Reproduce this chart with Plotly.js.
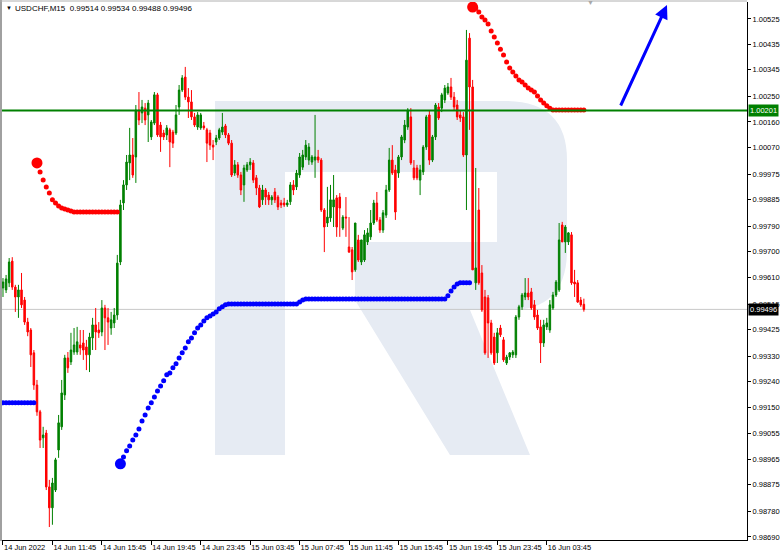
<!DOCTYPE html>
<html>
<head>
<meta charset="utf-8">
<script src="https://cdn.plot.ly/plotly-3.0.1.min.js"></script>
<style>
  html, body { margin: 0; padding: 0; background: #ffffff; }
  #chart { width: 782px; height: 555px; }
</style>
</head>
<body>
<div id="chart"></div>
<script>
// USDCHF M15 candles, 14 Jun 2022 07:45 onward
const symbol = 'USDCHF,M15';

const timeLabels = ['14 Jun 2022', '14 Jun 11:45', '14 Jun 15:45', '14 Jun 19:45', '14 Jun 23:45',
  '15 Jun 03:45', '15 Jun 07:45', '15 Jun 11:45', '15 Jun 15:45', '15 Jun 19:45',
  '15 Jun 23:45', '16 Jun 03:45'];
const barsPerLabel = 16;

const priceTicks = [1.00525, 1.00435, 1.00345, 1.00250, 1.00160, 1.00070, 0.99975, 0.99885,
  0.99790, 0.99700, 0.99610, 0.99515, 0.99425, 0.99330, 0.99240, 0.99150, 0.99055, 0.98965,
  0.98875, 0.98780, 0.98690];

const openP = [
  0.99572, 0.99565, 0.99590, 0.99667, 0.99575, 0.99540, 0.99565, 0.99529, 0.99451, 0.99423,
  0.99342, 0.99228, 0.99133, 0.99041, 0.99058, 0.98867, 0.98793, 0.98856, 0.98998, 0.99080,
  0.99193, 0.99324, 0.99310, 0.99345, 0.99345, 0.99370, 0.99377, 0.99363, 0.99335, 0.99395,
  0.99441, 0.99423, 0.99416, 0.99501, 0.99466, 0.99430, 0.99448, 0.99476, 0.99664, 0.99873,
  0.99937, 1.00015, 1.00043, 1.00036, 1.00202, 1.00192, 1.00209, 1.00185, 1.00107, 1.00156,
  1.00256, 1.00149, 1.00121, 1.00114, 1.00132, 1.00124, 1.00121, 1.00213, 1.00273, 1.00319,
  1.00248, 1.00231, 1.00178, 1.00142, 1.00139, 1.00146, 1.00132, 1.00121, 1.00078, 1.00089,
  1.00103, 1.00124, 1.00146, 1.00114, 1.00085, 0.99979, 1.00008, 0.99972, 0.99937, 0.99990,
  1.00008, 1.00015, 0.99962, 0.99926, 0.99884, 0.99919, 0.99901, 0.99884, 0.99912, 0.99894,
  0.99873, 0.99873, 0.99866, 0.99877, 0.99937, 0.99930, 0.99972, 1.00000, 1.00036, 1.00025,
  1.00018, 1.00025, 1.00036, 1.00025, 0.99848, 0.99802, 0.99820, 0.99859, 0.99891, 0.99894,
  0.99784, 0.99823, 0.99717, 0.99707, 0.99636, 0.99742, 0.99664, 0.99671, 0.99735, 0.99753,
  0.99802, 0.99873, 0.99813, 0.99777, 0.99830, 0.99919, 1.00025, 0.99990, 0.99979, 1.00036,
  1.00096, 1.00142, 1.00178, 0.99997, 0.99997, 0.99954, 0.99983, 1.00071, 1.00185, 1.00025,
  1.00107, 1.00213, 1.00209, 1.00238, 1.00263, 1.00284, 1.00248, 1.00220, 1.00185, 1.00178,
  1.00043, 1.00457, 1.00284, 0.99590, 0.99848, 0.99625, 0.99540, 0.99537, 0.99448, 0.99398,
  0.99342, 0.99430, 0.99388, 0.99306, 0.99327, 0.99335, 0.99335, 0.99469, 0.99505, 0.99540,
  0.99554, 0.99558, 0.99512, 0.99476, 0.99434, 0.99377, 0.99434, 0.99423, 0.99501, 0.99547,
  0.99565, 0.99795, 0.99735, 0.99735, 0.99760, 0.99593, 0.99590, 0.99529, 0.99514];

const highP = [
  0.99607, 0.99618, 0.99678, 0.99681, 0.99583, 0.99583, 0.99625, 0.99540, 0.99466, 0.99430,
  0.99352, 0.99246, 0.99140, 0.99080, 0.99069, 0.98892, 0.98899, 0.98970, 0.99122, 0.99246,
  0.99335, 0.99345, 0.99413, 0.99430, 0.99434, 0.99423, 0.99423, 0.99388, 0.99413, 0.99466,
  0.99501, 0.99451, 0.99529, 0.99512, 0.99501, 0.99487, 0.99501, 0.99689, 0.99884, 0.99954,
  1.00043, 1.00139, 1.00103, 1.00220, 1.00266, 1.00238, 1.00227, 1.00238, 1.00167, 1.00266,
  1.00263, 1.00160, 1.00132, 1.00149, 1.00139, 1.00132, 1.00220, 1.00291, 1.00326, 1.00355,
  1.00280, 1.00273, 1.00192, 1.00195, 1.00192, 1.00160, 1.00139, 1.00132, 1.00096, 1.00114,
  1.00139, 1.00192, 1.00153, 1.00121, 1.00096, 1.00025, 1.00018, 0.99983, 1.00008, 1.00018,
  1.00032, 1.00025, 0.99972, 0.99937, 0.99937, 0.99926, 0.99912, 0.99901, 0.99926, 0.99901,
  0.99884, 0.99891, 0.99884, 0.99947, 0.99954, 0.99990, 1.00050, 1.00061, 1.00096, 1.00085,
  1.00043, 1.00185, 1.00061, 1.00032, 0.99855, 0.99930, 0.99937, 0.99972, 0.99901, 0.99908,
  0.99830, 0.99894, 0.99823, 0.99717, 0.99802, 0.99760, 0.99742, 0.99777, 0.99784, 0.99848,
  0.99884, 0.99912, 0.99823, 0.99848, 0.99937, 1.00068, 1.00078, 1.00008, 1.00043, 1.00114,
  1.00167, 1.00209, 1.00209, 1.00025, 1.00008, 1.00008, 1.00078, 1.00185, 1.00202, 1.00114,
  1.00227, 1.00227, 1.00263, 1.00291, 1.00298, 1.00316, 1.00266, 1.00238, 1.00202, 1.00195,
  1.00486, 1.00475, 1.00309, 0.99997, 0.99926, 0.99653, 0.99565, 0.99547, 0.99459, 0.99413,
  0.99430, 0.99441, 0.99398, 0.99335, 0.99345, 0.99352, 0.99476, 0.99512, 0.99554, 0.99607,
  0.99607, 0.99572, 0.99529, 0.99494, 0.99459, 0.99459, 0.99466, 0.99529, 0.99558, 0.99600,
  0.99802, 0.99806, 0.99795, 0.99770, 0.99770, 0.99636, 0.99600, 0.99540, 0.99534];

const lowP = [
  0.99540, 0.99554, 0.99575, 0.99565, 0.99487, 0.99466, 0.99501, 0.99441, 0.99401, 0.99292,
  0.99211, 0.99119, 0.99005, 0.99005, 0.98856, 0.98725, 0.98733, 0.98849, 0.98970, 0.99069,
  0.99175, 0.99271, 0.99299, 0.99335, 0.99335, 0.99335, 0.99317, 0.99281, 0.99274, 0.99352,
  0.99352, 0.99395, 0.99401, 0.99352, 0.99370, 0.99406, 0.99430, 0.99459, 0.99653, 0.99848,
  0.99919, 0.99954, 0.99962, 0.99944, 1.00149, 1.00156, 1.00149, 1.00089, 1.00096, 1.00149,
  1.00107, 1.00054, 1.00096, 1.00096, 1.00000, 1.00068, 1.00114, 1.00185, 1.00266, 1.00238,
  1.00174, 1.00167, 1.00142, 1.00132, 1.00132, 1.00132, 1.00018, 1.00061, 1.00025, 1.00078,
  1.00096, 1.00114, 1.00103, 1.00078, 0.99965, 0.99969, 0.99962, 0.99901, 0.99877, 0.99983,
  0.99990, 0.99944, 0.99901, 0.99855, 0.99866, 0.99866, 0.99866, 0.99866, 0.99873, 0.99848,
  0.99855, 0.99859, 0.99859, 0.99866, 0.99901, 0.99919, 0.99962, 0.99990, 1.00025, 1.00008,
  1.00008, 0.99962, 1.00015, 0.99841, 0.99699, 0.99788, 0.99806, 0.99788, 0.99753, 0.99753,
  0.99777, 0.99753, 0.99696, 0.99600, 0.99629, 0.99664, 0.99653, 0.99664, 0.99724, 0.99742,
  0.99795, 0.99806, 0.99767, 0.99767, 0.99820, 0.99912, 0.99972, 0.99813, 0.99962, 1.00025,
  1.00085, 1.00132, 1.00008, 0.99954, 0.99954, 0.99901, 0.99972, 1.00061, 1.00008, 1.00018,
  1.00096, 1.00167, 1.00195, 1.00227, 1.00256, 1.00238, 1.00202, 1.00167, 1.00160, 1.00036,
  0.99848, 1.00132, 0.99636, 0.99565, 0.99583, 0.99487, 0.99335, 0.99324, 0.99335, 0.99299,
  0.99306, 0.99398, 0.99310, 0.99299, 0.99317, 0.99324, 0.99324, 0.99459, 0.99494, 0.99529,
  0.99529, 0.99494, 0.99459, 0.99423, 0.99306, 0.99363, 0.99423, 0.99413, 0.99494, 0.99540,
  0.99558, 0.99735, 0.99696, 0.99724, 0.99583, 0.99540, 0.99519, 0.99505, 0.99488];

const closeP = [
  0.99593, 0.99604, 0.99664, 0.99575, 0.99540, 0.99565, 0.99512, 0.99451, 0.99416, 0.99335,
  0.99228, 0.99133, 0.99033, 0.99051, 0.98867, 0.98793, 0.98881, 0.98963, 0.99094, 0.99200,
  0.99324, 0.99289, 0.99352, 0.99370, 0.99381, 0.99359, 0.99352, 0.99335, 0.99398, 0.99441,
  0.99416, 0.99413, 0.99501, 0.99466, 0.99451, 0.99459, 0.99476, 0.99660, 0.99866, 0.99937,
  1.00018, 1.00043, 0.99972, 1.00202, 1.00167, 1.00213, 1.00167, 1.00227, 1.00160, 1.00256,
  1.00114, 1.00107, 1.00107, 1.00139, 1.00089, 1.00085, 1.00185, 1.00273, 1.00316, 1.00248,
  1.00231, 1.00178, 1.00149, 1.00185, 1.00185, 1.00139, 1.00085, 1.00078, 1.00071, 1.00103,
  1.00132, 1.00142, 1.00114, 1.00085, 0.99972, 1.00008, 0.99972, 0.99919, 0.99997, 1.00008,
  1.00018, 0.99954, 0.99926, 0.99859, 0.99919, 0.99894, 0.99884, 0.99894, 0.99884, 0.99859,
  0.99866, 0.99866, 0.99873, 0.99937, 0.99919, 0.99979, 1.00036, 1.00043, 1.00078, 1.00071,
  1.00036, 1.00036, 1.00025, 0.99848, 0.99788, 0.99823, 0.99884, 0.99884, 0.99788, 0.99855,
  0.99823, 0.99820, 0.99699, 0.99629, 0.99802, 0.99671, 0.99742, 0.99760, 0.99767, 0.99802,
  0.99873, 0.99813, 0.99777, 0.99838, 0.99919, 1.00025, 0.99979, 0.99841, 1.00036, 1.00107,
  1.00149, 1.00202, 1.00015, 0.99962, 0.99962, 0.99990, 1.00071, 1.00178, 1.00025, 1.00107,
  1.00220, 1.00174, 1.00256, 1.00280, 1.00284, 1.00248, 1.00213, 1.00178, 1.00174, 1.00043,
  1.00379, 1.00284, 0.99636, 0.99643, 0.99590, 0.99494, 0.99342, 0.99448, 0.99342, 0.99306,
  0.99413, 0.99406, 0.99317, 0.99327, 0.99342, 0.99345, 0.99469, 0.99505, 0.99547, 0.99554,
  0.99540, 0.99501, 0.99469, 0.99430, 0.99377, 0.99441, 0.99448, 0.99512, 0.99547, 0.99593,
  0.99742, 0.99735, 0.99788, 0.99767, 0.99590, 0.99586, 0.99522, 0.99512, 0.99496];

// Trailing stop dots: each run starts at the bar given and continues bar by bar
const sarBlueStartA = 0;
const sarBlueA = [0.99165, 0.99165, 0.99165, 0.99165, 0.99165, 0.99165, 0.99165, 0.99165,
  0.99165, 0.99165, 0.99165];

const sarRedStartA = 11;
const sarRedA = [1.00015, 0.99983, 0.99954, 0.99930, 0.99908, 0.99884, 0.99873, 0.99862,
  0.99855, 0.99852, 0.99848, 0.99845, 0.99841, 0.99841, 0.99841, 0.99841, 0.99841, 0.99841,
  0.99841, 0.99841, 0.99841, 0.99841, 0.99841, 0.99841, 0.99841, 0.99841, 0.99841];

const sarBlueStartB = 38;
const sarBlueB = [0.98949, 0.98973, 0.98995, 0.99012, 0.99033, 0.99051, 0.99072, 0.99101,
  0.99122, 0.99147, 0.99165, 0.99186, 0.99207, 0.99225, 0.99243, 0.99264, 0.99271, 0.99289,
  0.99303, 0.99324, 0.99342, 0.99359, 0.99381, 0.99395, 0.99413, 0.99430, 0.99441, 0.99455,
  0.99466, 0.99473, 0.99480, 0.99487, 0.99498, 0.99505, 0.99512,
  0.99515, 0.99515, 0.99515, 0.99515, 0.99515, 0.99515, 0.99515, 0.99515, 0.99515, 0.99515,
  0.99515, 0.99515, 0.99515, 0.99515, 0.99515, 0.99515, 0.99515, 0.99515, 0.99515, 0.99515,
  0.99515, 0.99515, 0.99515,
  0.99522, 0.99529,
  0.99533, 0.99533, 0.99533, 0.99533, 0.99533, 0.99533, 0.99533, 0.99533, 0.99533, 0.99533,
  0.99533, 0.99533, 0.99533, 0.99533, 0.99533, 0.99533, 0.99533, 0.99533, 0.99533, 0.99533,
  0.99533, 0.99533, 0.99533, 0.99533, 0.99533, 0.99533, 0.99533, 0.99533, 0.99533, 0.99533,
  0.99533, 0.99533, 0.99533, 0.99533, 0.99533, 0.99533, 0.99533, 0.99533, 0.99533, 0.99533,
  0.99533, 0.99533, 0.99533, 0.99533, 0.99533, 0.99533,
  0.99544, 0.99561, 0.99575, 0.99586, 0.99590, 0.99590, 0.99590, 0.99590];

const sarRedStartB = 152;
const sarRedB = [1.00567, 1.00564, 1.00550, 1.00532, 1.00521, 1.00507, 1.00482, 1.00461,
  1.00440, 1.00418, 1.00397, 1.00372, 1.00351, 1.00337, 1.00323, 1.00309, 1.00302, 1.00291,
  1.00280, 1.00273, 1.00266, 1.00252, 1.00238, 1.00227, 1.00217, 1.00209,
  1.00202, 1.00202, 1.00202, 1.00202, 1.00202, 1.00202, 1.00202, 1.00202, 1.00202, 1.00202,
  1.00202];

// Horizontal level, forecast arrow (bar offset / price)
const resistanceLevel = 1.00201;
const arrowFrom = [199.7, 1.00213];
const arrowTo = [214.9, 1.00574];

const n = closeP.length;
const bars = closeP.map((_, i) => i);
const lastClose = closeP[n - 1];

const GREEN = '#008000';
const RED = '#ff0000';
const BLUE = '#0000ff';

function sarTrace(start, values, color) {
  const xs = values.map((_, k) => start + k);
  return {
    type: 'scatter', mode: 'markers', x: xs, y: values,
    marker: { color: color, size: 5, line: { width: 0 } },
    hoverinfo: 'skip', showlegend: false
  };
}
function sarStart(start, values, color) {
  return {
    type: 'scatter', mode: 'markers', x: [start], y: [values[0]],
    marker: { color: color, size: 11, line: { width: 0 } },
    hoverinfo: 'skip', showlegend: false
  };
}

const traces = [
  {
    type: 'candlestick', x: bars, open: openP, high: highP, low: lowP, close: closeP,
    increasing: { line: { color: GREEN, width: 1 }, fillcolor: GREEN },
    decreasing: { line: { color: RED, width: 1 }, fillcolor: RED },
    whiskerwidth: 0, hoverinfo: 'skip', showlegend: false
  },
  sarTrace(sarBlueStartA, sarBlueA, BLUE),
  sarTrace(sarRedStartA, sarRedA, RED),
  sarStart(sarRedStartA, sarRedA, RED),
  sarTrace(sarBlueStartB, sarBlueB, BLUE),
  sarStart(sarBlueStartB, sarBlueB, BLUE),
  sarTrace(sarRedStartB, sarRedB, RED),
  sarStart(sarRedStartB, sarRedB, RED)
];

// plot box in page pixels: left 2, right 747, top 2, bottom 540
const boxL = 2, boxR = 747, boxT = 2, boxB = 540;
const fx = p => (p - boxL) / (boxR - boxL);
const fy = p => (boxB - p) / (boxB - boxT);
const pt = (x, y) => fx(x).toFixed(4) + ',' + fy(y).toFixed(4);

// faint "R" watermark
const logoPath = 'M' + pt(215, 455) + ' L' + pt(215, 101) + ' L' + pt(505, 101) +
  ' Q' + pt(567, 101) + ' ' + pt(567, 160) + ' L' + pt(567, 250) +
  ' Q' + pt(567, 310) + ' ' + pt(510, 310) + ' L' + pt(470, 310) +
  ' L' + pt(530, 455) + ' L' + pt(450, 455) + ' L' + pt(355, 300) +
  ' L' + pt(355, 242) + ' L' + pt(497, 242) + ' L' + pt(497, 172) +
  ' L' + pt(285, 172) + ' L' + pt(285, 455) + ' Z';

const xRange = [-0.32, 240.8];
const yRange = [0.98679, 1.00585];

const layout = {
  width: 782, height: 555,
  margin: { l: boxL, r: 782 - boxR, t: boxT, b: 555 - boxB, pad: 0 },
  paper_bgcolor: '#ffffff', plot_bgcolor: '#ffffff',
  font: { family: 'Liberation Sans, Arial, sans-serif', size: 7.5, color: '#000000' },
  showlegend: false,
  xaxis: {
    range: xRange, fixedrange: true, automargin: false,
    rangeslider: { visible: false },
    tickmode: 'array',
    tickvals: timeLabels.map((_, k) => k * barsPerLabel),
    ticktext: timeLabels,
    tickangle: 0,
    ticks: 'outside', ticklen: 4, tickwidth: 1, tickcolor: '#000000',
    ticklabelposition: 'outside right',
    showgrid: false, zeroline: false,
    showline: true, linecolor: '#000000', linewidth: 1,
    tickfont: { size: 7.5, color: '#000000' }
  },
  yaxis: {
    range: yRange, fixedrange: true, side: 'right', automargin: false,
    tickmode: 'array', tickvals: priceTicks,
    ticktext: priceTicks.map(v => v.toFixed(5)),
    ticks: 'outside', ticklen: 3, tickwidth: 1, tickcolor: '#000000',
    showgrid: false, zeroline: false,
    showline: true, linecolor: '#000000', linewidth: 1,
    tickfont: { size: 7.5, color: '#000000' }
  },
  shapes: [
    { type: 'path', xref: 'paper', yref: 'paper', path: logoPath,
      fillcolor: '#e6ebf3', line: { width: 0 }, layer: 'below' },
    { type: 'line', xref: 'paper', yref: 'y', x0: 0, x1: 1, y0: lastClose, y1: lastClose,
      line: { color: '#c8c8c8', width: 1 }, layer: 'below' },
    { type: 'line', xref: 'paper', yref: 'y', x0: 0, x1: 1, y0: resistanceLevel, y1: resistanceLevel,
      line: { color: GREEN, width: 2 }, layer: 'above' },
    { type: 'line', xref: 'paper', yref: 'paper', x0: fx(1), x1: fx(1), y0: fy(541), y1: fy(0),
      line: { color: '#a0a0a0', width: 2 } },
    { type: 'line', xref: 'paper', yref: 'paper', x0: fx(0), x1: 1, y0: fy(1), y1: fy(1),
      line: { color: '#b0b0b0', width: 1 } }
  ],
  annotations: [
    { xref: 'paper', yref: 'paper', x: fx(4), y: fy(8), xanchor: 'left', yanchor: 'middle',
      text: '▼', showarrow: false, font: { size: 6, color: '#000000' } },
    { xref: 'paper', yref: 'paper', x: fx(13), y: fy(8), xanchor: 'left', yanchor: 'middle',
      text: symbol + '  ' + [openP[n - 1], highP[n - 1], lowP[n - 1], closeP[n - 1]].map(v => v.toFixed(5)).join(' '),
      showarrow: false, font: { size: 8, color: '#000000' } },
    { xref: 'paper', yref: 'paper', x: fx(590), y: fy(3), xanchor: 'center', yanchor: 'middle',
      text: '▼', showarrow: false, font: { size: 7, color: '#a8a8a8' } },
    { xref: 'paper', yref: 'y', x: 1, y: resistanceLevel, xanchor: 'left', yanchor: 'middle',
      xshift: 1, text: resistanceLevel.toFixed(5), showarrow: false,
      bgcolor: GREEN, borderpad: 1, font: { size: 7.5, color: '#ffffff' } },
    { xref: 'paper', yref: 'y', x: 1, y: lastClose, xanchor: 'left', yanchor: 'middle',
      xshift: 1, text: lastClose.toFixed(5), showarrow: false,
      bgcolor: '#000000', borderpad: 1, font: { size: 7.5, color: '#ffffff' } },
    { xref: 'x', yref: 'y', axref: 'x', ayref: 'y',
      x: arrowTo[0], y: arrowTo[1], ax: arrowFrom[0], ay: arrowFrom[1],
      text: '', showarrow: true, arrowhead: 2, arrowsize: 0.9, arrowwidth: 3, arrowcolor: BLUE }
  ]
};

Plotly.newPlot('chart', traces, layout, { staticPlot: true, displayModeBar: false });
</script>
</body>
</html>
